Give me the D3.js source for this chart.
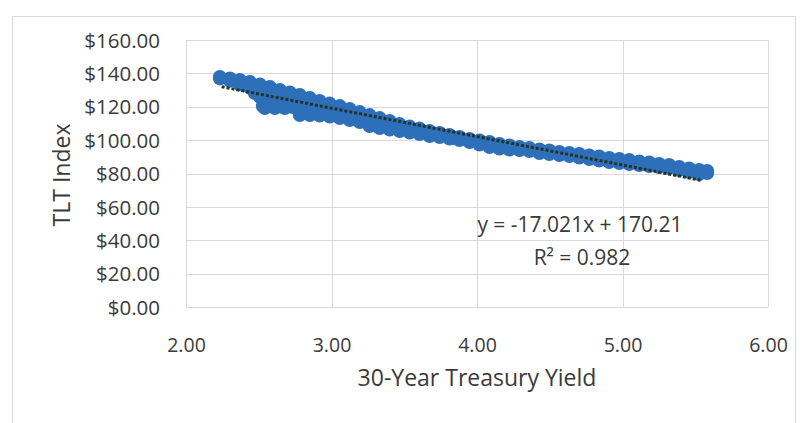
<!DOCTYPE html>
<html>
<head>
<meta charset="utf-8">
<script src="https://cdn.jsdelivr.net/npm/d3@7"></script>
<style>
  body { margin: 0; background: #fff; }
  svg text { font-family: "Open Sans", sans-serif; fill: #3a3a3a; }
  .grid line { stroke: #d9d9d9; stroke-width: 1; }
</style>
</head>
<body>
<div id="chart"></div>
<script>
// tick labels
const xTicks = [2, 3, 4, 5, 6];
const yTicks = [0, 20, 40, 60, 80, 100, 120, 140, 160];

// scatter: [30y yield, TLT price]
const upperEdge = [
  [2.233, 137.8], [2.302, 136.9], [2.370, 136.0], [2.439, 134.8], [2.508, 133.3],
  [2.576, 131.8], [2.645, 130.0], [2.714, 128.5], [2.782, 127.0], [2.851, 125.2],
  [2.919, 123.4], [2.988, 121.9], [3.057, 120.4], [3.125, 118.6], [3.194, 116.8],
  [3.262, 115.0], [3.331, 113.2], [3.400, 111.4], [3.468, 109.6], [3.537, 108.1],
  [3.605, 106.9], [3.674, 105.4], [3.743, 104.3], [3.811, 103.1], [3.880, 101.9],
  [3.949, 100.7], [4.017, 99.8], [4.086, 98.9], [4.154, 97.7], [4.223, 96.8],
  [4.292, 95.9], [4.360, 95.3], [4.429, 94.4], [4.497, 93.8], [4.566, 92.9],
  [4.635, 92.3], [4.703, 91.7], [4.772, 90.8], [4.840, 90.2], [4.909, 89.3],
  [4.978, 88.7], [5.046, 88.1], [5.115, 87.2], [5.184, 86.6], [5.252, 85.7],
  [5.321, 85.1], [5.390, 83.9], [5.458, 83.0], [5.527, 82.1], [5.582, 80.3]
];

const middle = [
  [2.473, 128.2], [2.507, 126.0], [2.542, 126.4], [2.576, 124.0], [2.611, 124.6],
  [2.645, 122.5], [2.679, 123.4], [2.714, 121.5], [2.748, 122.2], [2.782, 119.5],
  [2.816, 120.4], [2.885, 119.2], [2.954, 118.0], [3.022, 116.8], [3.091, 115.6],
  [3.160, 114.4], [3.228, 112.6], [3.331, 110.2], [3.434, 108.4], [3.537, 106.6],
  [3.640, 104.9], [3.743, 103.1], [3.846, 101.3], [3.949, 99.8], [4.051, 98.3],
  [4.154, 96.5], [4.292, 94.7], [4.429, 93.2], [4.566, 92.0], [4.703, 90.5],
  [4.840, 89.3], [4.978, 87.5], [5.115, 86.3], [5.252, 84.8], [5.390, 83.0],
  [5.527, 80.9]
];

const lowerEdge = [
  [2.233, 137.0], [2.302, 135.6], [2.370, 133.4], [2.439, 131.4], [2.528, 120.4],
  [2.542, 119.2], [2.611, 119.2], [2.679, 119.2], [2.734, 119.8], [2.782, 115.0],
  [2.851, 115.0], [2.919, 114.7], [2.988, 114.1], [3.057, 113.2], [3.125, 112.0],
  [3.194, 110.8], [3.262, 108.4], [3.331, 107.2], [3.400, 106.3], [3.468, 105.5],
  [3.537, 104.6], [3.605, 103.7], [3.674, 102.5], [3.743, 101.9], [3.811, 101.0],
  [3.880, 100.1], [3.949, 98.9], [4.017, 97.4], [4.086, 95.9], [4.154, 95.0],
  [4.223, 94.4], [4.292, 94.1], [4.360, 93.5], [4.429, 92.3], [4.497, 91.7],
  [4.566, 91.1], [4.635, 90.5], [4.703, 89.6], [4.772, 88.7], [4.840, 87.8],
  [4.909, 86.9], [4.978, 86.3], [5.046, 85.7], [5.115, 85.1], [5.184, 84.5],
  [5.252, 83.9], [5.321, 83.3], [5.390, 82.1], [5.458, 80.9], [5.527, 79.7],
  [5.582, 81.5]
];

// linear trendline shown on the chart
const trendSlope = -17.021;
const trendIntercept = 170.21;
const trendRange = [2.245, 5.55];
const trendText = ["y = -17.021x + 170.21", "R² = 0.982"];

const width = 808, height = 423;
const margin = { top: 40, right: 40, bottom: 116, left: 186 };
const innerW = 768 - margin.left;
const innerH = 307 - margin.top;

const svg = d3.select("#chart").append("svg")
  .attr("width", width)
  .attr("height", height);

// chart area border
svg.append("rect")
  .attr("x", 12.5).attr("y", 16.5)
  .attr("width", 783).attr("height", 420)
  .attr("fill", "none")
  .attr("stroke", "#d9d9d9");

const g = svg.append("g")
  .attr("transform", "translate(" + margin.left + "," + margin.top + ")");

const x = d3.scaleLinear().domain([2, 6]).range([0, innerW]);
const y = d3.scaleLinear().domain([0, 160]).range([innerH, 0]);

// gridlines
const grid = g.append("g").attr("class", "grid");
grid.selectAll(".hg").data(yTicks).enter().append("line")
  .attr("x1", 0).attr("x2", innerW)
  .attr("y1", d => Math.round(y(d)) + 0.5).attr("y2", d => Math.round(y(d)) + 0.5);
grid.selectAll(".vg").data(xTicks).enter().append("line")
  .attr("y1", 0).attr("y2", innerH)
  .attr("x1", d => Math.round(x(d)) + 0.5).attr("x2", d => Math.round(x(d)) + 0.5);

// axes (labels only, Excel style)
const yAxis = d3.axisLeft(y).tickValues(yTicks).tickSize(0).tickPadding(26)
  .tickFormat(d => "$" + d3.format(".2f")(d));
g.append("g").call(yAxis)
  .call(s => s.select(".domain").remove())
  .selectAll("text").style("font-size", "20.5px").attr("dy", "0.35em");

const xAxis = d3.axisBottom(x).tickValues(xTicks).tickSize(0).tickPadding(31)
  .tickFormat(d3.format(".2f"));
g.append("g").attr("transform", "translate(0," + innerH + ")").call(xAxis)
  .call(s => s.select(".domain").remove())
  .selectAll("text").style("font-size", "19.5px");

// scatter points
const points = upperEdge.concat(middle, lowerEdge);
g.append("g").selectAll("circle").data(points).enter().append("circle")
  .attr("cx", d => x(d[0]))
  .attr("cy", d => y(d[1]))
  .attr("r", 7)
  .attr("fill", "#2e6fba");

// trendline
g.append("line")
  .attr("x1", x(trendRange[0])).attr("y1", y(trendSlope * trendRange[0] + trendIntercept))
  .attr("x2", x(trendRange[1])).attr("y2", y(trendSlope * trendRange[1] + trendIntercept))
  .attr("stroke", "#22342a")
  .attr("stroke-width", 3)
  .attr("stroke-dasharray", "3,2");

// equation label
g.append("text")
  .attr("x", 580 - margin.left).attr("y", 232 - margin.top)
  .attr("text-anchor", "middle")
  .style("font-size", "21px")
  .text(trendText[0]);
g.append("text")
  .attr("x", 582 - margin.left).attr("y", 265 - margin.top)
  .attr("text-anchor", "middle")
  .style("font-size", "21px")
  .text(trendText[1]);

// axis titles
svg.append("text")
  .attr("x", 477).attr("y", 386)
  .attr("text-anchor", "middle")
  .style("font-size", "23px")
  .text("30-Year Treasury Yield");

svg.append("text")
  .attr("transform", "translate(70,175) rotate(-90)")
  .attr("text-anchor", "middle")
  .style("font-size", "23px")
  .text("TLT Index");
</script>
</body>
</html>
